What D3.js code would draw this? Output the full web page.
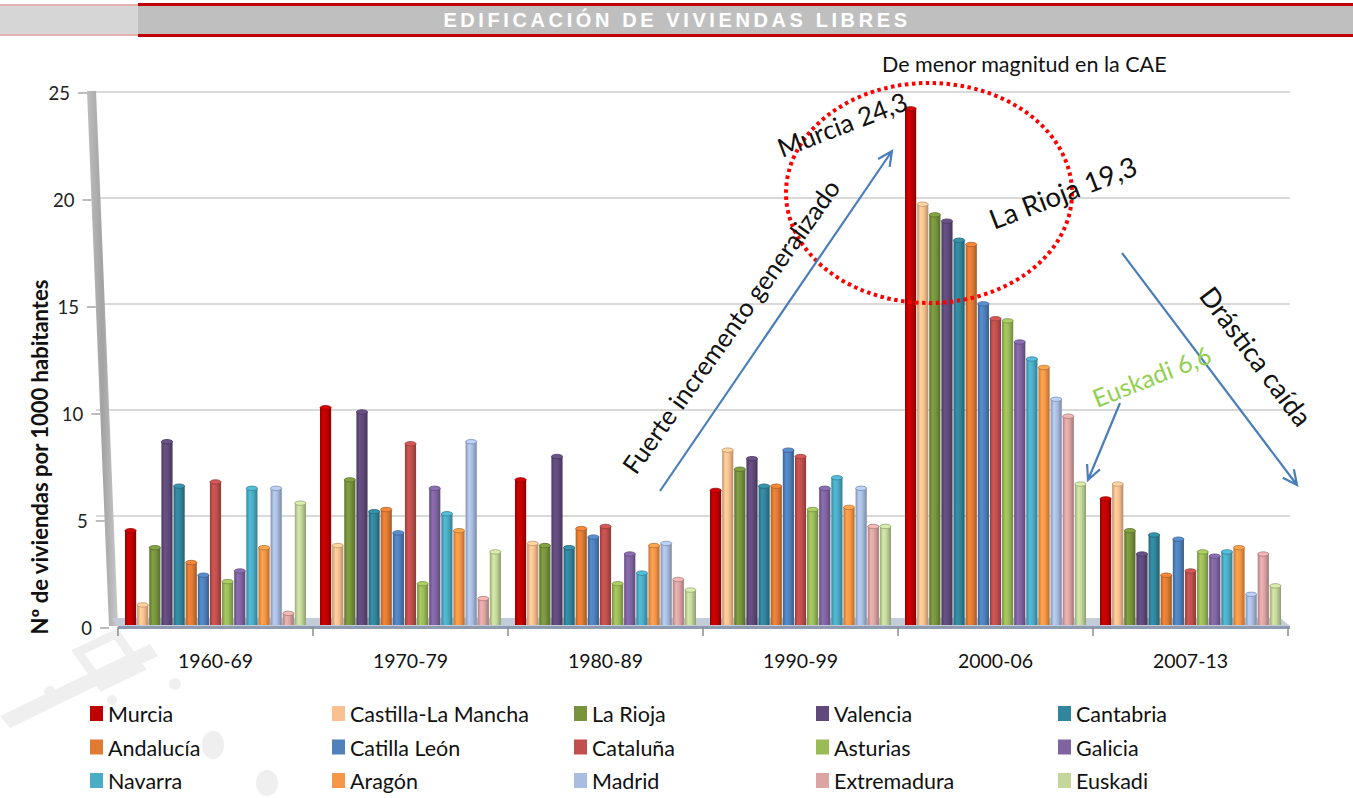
<!DOCTYPE html>
<html>
<head>
<meta charset="utf-8">
<script src="https://cdn.jsdelivr.net/npm/d3@7"></script>
<style>
  body { margin: 0; background: #fff; }
  svg text { font-family: Lato, "Open Sans", sans-serif; }
</style>
</head>
<body>
<div id="chart"></div>
<script>
// periods on the x axis
const periods = ["1960-69", "1970-79", "1980-89", "1990-99", "2000-06", "2007-13"];
// regions (series), in legend order
const regions = ["Murcia", "Castilla-La Mancha", "La Rioja", "Valencia", "Cantabria",
                 "Andalucía", "Catilla León", "Cataluña", "Asturias", "Galicia",
                 "Navarra", "Aragón", "Madrid", "Extremadura", "Euskadi"];
const colors = ["#c00000", "#fac090", "#77933c", "#604a7b", "#31859c",
                "#e07b33", "#4f81bd", "#c0504d", "#9bbb59", "#8064a2",
                "#4bacc6", "#f79646", "#a9bde0", "#dba5a4", "#c4d79b"];

// viviendas por 1000 habitantes, one array per period (same order as regions)
const v1960 = [4.4, 0.9, 3.6, 8.6, 6.5, 2.9, 2.3, 6.7, 2.0, 2.5, 6.4, 3.6, 6.4, 0.5, 5.7];
const v1970 = [10.2, 3.7, 6.8, 10.0, 5.3, 5.4, 4.3, 8.5, 1.9, 6.4, 5.2, 4.4, 8.6, 1.2, 3.4];
const v1980 = [6.8, 3.8, 3.7, 7.9, 3.6, 4.5, 4.1, 4.6, 1.9, 3.3, 2.4, 3.7, 3.8, 2.1, 1.6];
const v1990 = [6.3, 8.2, 7.3, 7.8, 6.5, 6.5, 8.2, 7.9, 5.4, 6.4, 6.9, 5.5, 6.4, 4.6, 4.6];
const v2000 = [24.3, 19.8, 19.3, 19.0, 18.1, 17.9, 15.1, 14.4, 14.3, 13.3, 12.5, 12.1, 10.6, 9.8, 6.6];
const v2007 = [5.9, 6.6, 4.4, 3.3, 4.2, 2.3, 4.0, 2.5, 3.4, 3.2, 3.4, 3.6, 1.4, 3.3, 1.8];
const periodValues = [v1960, v1970, v1980, v1990, v2000, v2007];

const yTicks = [0, 5, 10, 15, 20, 25];

const width = 1353, height = 798;

const svg = d3.select("#chart")
    .append("svg")
    .attr("width", width)
    .attr("height", height);

const defs = svg.append("defs");

// ---- faint watermark at bottom left
const wm = svg.append("g").attr("fill", "#efefef");
wm.append("path")
    .attr("d", "M0,716 L150,644 L158,656 L10,728 Z");
wm.append("path")
    .attr("d", "M78,652 L116,634 L140,668 L102,686 Z")
    .attr("fill", "none").attr("stroke", "#efefef").attr("stroke-width", 9);
wm.append("circle").attr("cx", 50).attr("cy", 692).attr("r", 6);
wm.append("circle").attr("cx", 112).attr("cy", 700).attr("r", 5);
wm.append("circle").attr("cx", 175).attr("cy", 684).attr("r", 6);
wm.append("ellipse").attr("cx", 213).attr("cy", 745).attr("rx", 11).attr("ry", 14);
wm.append("ellipse").attr("cx", 267).attr("cy", 783).attr("rx", 11).attr("ry", 13);

// ---- header band
svg.append("rect").attr("x", 0).attr("y", 4).attr("width", 138).attr("height", 32).attr("fill", "#d6d6d6");
svg.append("rect").attr("x", 0).attr("y", 4).attr("width", 138).attr("height", 2).attr("fill", "#e6b0b0");
svg.append("rect").attr("x", 0).attr("y", 34).attr("width", 138).attr("height", 2).attr("fill", "#e6b0b0");
svg.append("rect").attr("x", 138).attr("y", 4).attr("width", width - 138).attr("height", 32).attr("fill", "#bfbfbf");
svg.append("rect").attr("x", 138).attr("y", 3).attr("width", width - 138).attr("height", 3).attr("fill", "#c00000");
svg.append("rect").attr("x", 138).attr("y", 34).attr("width", width - 138).attr("height", 3).attr("fill", "#c00000");
svg.append("text")
    .attr("x", 677).attr("y", 20)
    .attr("text-anchor", "middle")
    .attr("dominant-baseline", "central")
    .style("font-family", "'Liberation Sans', Arial, sans-serif")
    .style("font-weight", "bold")
    .style("font-size", "20px")
    .style("letter-spacing", "3.6px")
    .attr("fill", "#ffffff")
    .text("EDIFICACIÓN DE VIVIENDAS LIBRES");

// ---- scales
const x0 = d3.scaleBand().domain(periods).range([118, 1288]);
const x1 = d3.scaleBand().domain(regions).range([7, 188]).paddingInner(0.08);
const yBar = d3.scaleLinear().domain([0, 25]).range([622, 92]);   // bars / back wall
const yAxis = d3.scaleLinear().domain([0, 25]).range([628, 93]);  // front axis labels
const color = d3.scaleOrdinal().domain(regions).range(colors);
const floorY = 625;
// left edge of the slanted side wall at a given height
const wallLeft = y => 87 + (y - 91) * 22 / 535;

// ---- gridlines on the back wall
svg.append("g")
    .selectAll("line")
    .data(yTicks.filter(d => d > 0))
    .join("line")
    .attr("x1", 96)
    .attr("x2", 1290)
    .attr("y1", d => yBar(d))
    .attr("y2", d => yBar(d))
    .attr("stroke", "#d9d9d9")
    .attr("stroke-width", 2);

// ---- left wall (3D)
const wallGrad = defs.append("linearGradient").attr("id", "wallGrad");
wallGrad.append("stop").attr("offset", "0%").attr("stop-color", "#bdbdbd");
wallGrad.append("stop").attr("offset", "50%").attr("stop-color", "#a3a3a3");
wallGrad.append("stop").attr("offset", "100%").attr("stop-color", "#c9c9c9");
svg.append("path")
    .attr("d", "M87,91 L96,91 L118,626 L109,626 Z")
    .attr("fill", "url(#wallGrad)");

// y tick labels and tick marks
const yAx = svg.append("g");
yAx.selectAll("line")
    .data(yTicks)
    .join("line")
    .attr("x1", d => wallLeft(yAxis(d)) - 9)
    .attr("x2", d => wallLeft(yAxis(d)))
    .attr("y1", d => yAxis(d))
    .attr("y2", d => yAxis(d))
    .attr("stroke", "#a6a6a6")
    .attr("stroke-width", 1.5);
yAx.selectAll("text")
    .data(yTicks)
    .join("text")
    .attr("x", d => wallLeft(yAxis(d)) - 17)
    .attr("y", d => yAxis(d))
    .attr("text-anchor", "end")
    .attr("dominant-baseline", "central")
    .style("font-size", "18.5px")
    .attr("fill", "#222")
    .text(d => d);

// y axis title
svg.append("text")
    .attr("transform", "translate(39,457) rotate(-90)")
    .attr("text-anchor", "middle")
    .attr("dominant-baseline", "central")
    .style("font-size", "22px")
    .style("font-weight", "bold")
    .attr("fill", "#111")
    .text("Nº de viviendas por 1000 habitantes");

// ---- floor
svg.append("path")
    .attr("d", "M112,618 L1280,618 L1290,626 L118,626 Z")
    .attr("fill", "#c3ccd9");
svg.append("path")
    .attr("d", "M118,626 L1290,626 L1290,629 L118,629 Z")
    .attr("fill", "#8e9bb0");

// category ticks and labels
const xAx = svg.append("g");
xAx.selectAll("line")
    .data(periods.map(p => x0(p)).concat([x0.range()[1]]))
    .join("line")
    .attr("x1", d => d).attr("x2", d => d)
    .attr("y1", 627).attr("y2", 636)
    .attr("stroke", "#8c8c8c")
    .attr("stroke-width", 1.5);
xAx.selectAll("text")
    .data(periods)
    .join("text")
    .attr("x", d => x0(d) + x0.bandwidth() / 2)
    .attr("y", 660)
    .attr("text-anchor", "middle")
    .attr("dominant-baseline", "central")
    .style("font-size", "19.5px")
    .attr("fill", "#111")
    .text(d => d);

// ---- cylinder gradients per region
regions.forEach((r, i) => {
    const c = d3.color(colors[i]);
    const g = defs.append("linearGradient").attr("id", "cyl" + i);
    g.append("stop").attr("offset", "0%").attr("stop-color", c.darker(0.7));
    g.append("stop").attr("offset", "30%").attr("stop-color", c.brighter(0.25));
    g.append("stop").attr("offset", "60%").attr("stop-color", c);
    g.append("stop").attr("offset", "100%").attr("stop-color", c.darker(0.9));
});

// ---- bars
const bw = x1.bandwidth();
const groups = svg.append("g")
    .selectAll("g")
    .data(periods)
    .join("g")
    .attr("transform", d => `translate(${x0(d)},0)`);

const bars = groups.selectAll("g")
    .data((p, pi) => regions.map((r, ri) => ({ region: r, ri: ri, value: periodValues[pi][ri] })))
    .join("g");

bars.append("rect")
    .attr("x", d => x1(d.region))
    .attr("y", d => yBar(d.value) + 2)
    .attr("width", bw)
    .attr("height", d => floorY - yBar(d.value) - 2)
    .attr("fill", d => `url(#cyl${d.ri})`);

bars.append("ellipse")
    .attr("cx", d => x1(d.region) + bw / 2)
    .attr("cy", d => yBar(d.value) + 2)
    .attr("rx", bw / 2)
    .attr("ry", 2.2)
    .attr("fill", d => d3.color(color(d.region)).brighter(0.3))
    .attr("stroke", d => d3.color(color(d.region)).darker(0.8))
    .attr("stroke-width", 0.8);

// ---- legend
const legend = svg.append("g")
    .selectAll("g")
    .data(regions)
    .join("g")
    .attr("transform", (d, i) => `translate(${90 + (i % 5) * 242},${714 + Math.floor(i / 5) * 33.5})`);

legend.append("rect")
    .attr("x", 0).attr("y", -8)
    .attr("width", 13).attr("height", 15)
    .attr("fill", d => color(d));

legend.append("text")
    .attr("x", 18).attr("y", 0)
    .attr("dominant-baseline", "central")
    .style("font-size", "21.5px")
    .attr("fill", "#111")
    .text(d => d);

// ---- annotations
const ann = svg.append("g");

ann.append("text")
    .attr("x", 882).attr("y", 64)
    .attr("dominant-baseline", "central")
    .style("font-size", "21.5px")
    .attr("fill", "#111")
    .text("De menor magnitud en la CAE");

ann.append("ellipse")
    .attr("cx", 929).attr("cy", 193)
    .attr("rx", 143).attr("ry", 110)
    .attr("fill", "none")
    .attr("stroke", "#ff0000")
    .attr("stroke-width", 4)
    .attr("stroke-dasharray", "3.5,3.5");

function arrow(xa, ya, xb, yb) {
    const a = Math.atan2(yb - ya, xb - xa);
    const h = 16, s = 0.45;
    const p = `M${xa},${ya} L${xb},${yb} ` +
        `M${xb - h * Math.cos(a - s)},${yb - h * Math.sin(a - s)} L${xb},${yb} ` +
        `L${xb - h * Math.cos(a + s)},${yb - h * Math.sin(a + s)}`;
    ann.append("path")
        .attr("d", p)
        .attr("fill", "none")
        .attr("stroke", "#4a7ebb")
        .attr("stroke-width", 2.2);
}
arrow(660, 491, 892, 151);
arrow(1122, 253, 1297, 485);
arrow(1120, 403, 1088, 480);

function rotText(x, y, angle, txt, size, fill) {
    ann.append("text")
        .attr("transform", `translate(${x},${y}) rotate(${angle})`)
        .style("font-size", size + "px")
        .attr("fill", fill)
        .text(txt);
}
rotText(636, 476, -54.5, "Fuerte incremento generalizado", 25.5, "#111");
rotText(782, 158, -21, "Murcia 24,3", 26, "#111");
rotText(994, 230, -21, "La Rioja 19,3", 27.5, "#111");
rotText(1097, 408, -21.5, "Euskadi 6,6", 25, "#92d050");
rotText(1198, 296, 53, "Drástica caída", 27, "#111");
</script>
</body>
</html>
